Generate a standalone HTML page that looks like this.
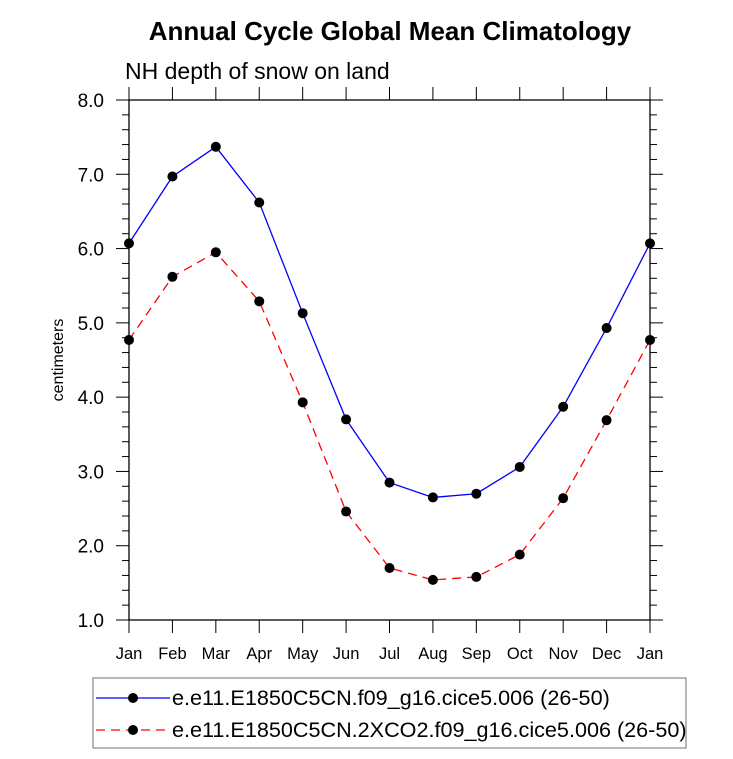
<!DOCTYPE html>
<html><head><meta charset="utf-8"><style>
body{margin:0;background:#fff}
svg text{font-family:"Liberation Sans",sans-serif}
</style></head><body>
<svg id="chart" width="733" height="754" xmlns="http://www.w3.org/2000/svg">
<text x="390" y="40" text-anchor="middle" font-size="26" font-weight="bold">Annual Cycle Global Mean Climatology</text>
<text x="125" y="79" font-size="23">NH depth of snow on land</text>
<text transform="translate(63,360) rotate(-90)" text-anchor="middle" font-size="16">centimeters</text>
<g id="axes"></g>
<g id="series"></g>
<g>
<rect x="93" y="678" width="593" height="70" fill="none" stroke="#888" stroke-width="1.2"/>
<line x1="96" y1="698" x2="170" y2="698" stroke="#0000ff" stroke-width="1.3"/>
<circle cx="133" cy="698" r="5" fill="#000"/>
<text x="172" y="705" font-size="21.6">e.e11.E1850C5CN.f09_g16.cice5.006 (26-50)</text>
<line x1="96" y1="730" x2="170" y2="730" stroke="#ff0000" stroke-width="1.3" stroke-dasharray="9,6"/>
<circle cx="133" cy="730" r="5" fill="#000"/>
<text x="172" y="737" font-size="21.6">e.e11.E1850C5CN.2XCO2.f09_g16.cice5.006 (26-50)</text>
</g>
</svg>
<script>
const months=["Jan","Feb","Mar","Apr","May","Jun","Jul","Aug","Sep","Oct","Nov","Dec","Jan"];
const controlValues=[6.07,6.97,7.37,6.62,5.13,3.70,2.85,2.65,2.70,3.06,3.87,4.93,6.07];
const co2Values=[4.77,5.62,5.95,5.29,3.93,2.46,1.70,1.54,1.58,1.88,2.64,3.69,4.77];
const yTicks=[1,2,3,4,5,6,7,8];
const yTickLabels=["1.0","2.0","3.0","4.0","5.0","6.0","7.0","8.0"];
const X0=129,X1=650,Y0=620,Y1=100,ymin=1,ymax=8;
const NS="http://www.w3.org/2000/svg";
const xs=i=>X0+(X1-X0)*i/(months.length-1);
const ys=v=>Y0-(Y0-Y1)*(v-ymin)/(ymax-ymin);
function mk(t,a,p){const e=document.createElementNS(NS,t);for(const k in a)e.setAttribute(k,a[k]);p.appendChild(e);return e;}
const ax=document.getElementById('axes');
const fr=mk('rect',{x:X0,y:Y1,width:X1-X0,height:Y0-Y1,fill:'none',stroke:'#000','stroke-width':1.3},ax);


for(let v=ymin;v<=ymax+1e-9;v+=0.2){
 const major=Math.abs(v-Math.round(v))<1e-6;const L=major?13:7;const y=ys(v);
 mk('line',{x1:X0-L,y1:y,x2:X0,y2:y,stroke:'#000','stroke-width':1},ax);
 mk('line',{x1:X1,y1:y,x2:X1+L,y2:y,stroke:'#000','stroke-width':1},ax);
}
yTicks.forEach((v,i)=>{
 const t=mk('text',{x:X0-25,y:ys(v)+7,'text-anchor':'end','font-size':19},ax);t.textContent=yTickLabels[i];
 
 
});
months.forEach((m,i)=>{
 const x=xs(i);
 mk('line',{x1:x,y1:Y0,x2:x,y2:Y0+13,stroke:'#000','stroke-width':1},ax);
 mk('line',{x1:x,y1:Y1-13,x2:x,y2:Y1,stroke:'#000','stroke-width':1},ax);
 const t=mk('text',{x:x,y:Y0+39,'text-anchor':'middle','font-size':16.5},ax);t.textContent=m;
 
 
});
const sg=document.getElementById('series');
function series(vals,color,dash,name){
 const g=mk('g',{},sg);
 
 
 const pts=vals.map((v,i)=>xs(i)+','+ys(v)).join(' ');
 const a={points:pts,fill:'none',stroke:color,'stroke-width':1.3};if(dash)a['stroke-dasharray']=dash;
 mk('polyline',a,g);
 vals.forEach((v,i)=>{const c=mk('circle',{cx:xs(i),cy:ys(v),r:5,fill:'#000'},g);
  
  });
}
series(controlValues,'#0000ff',null,'series-control');
series(co2Values,'#ff0000','9,6','series-2xco2');
</script>
</body></html>
